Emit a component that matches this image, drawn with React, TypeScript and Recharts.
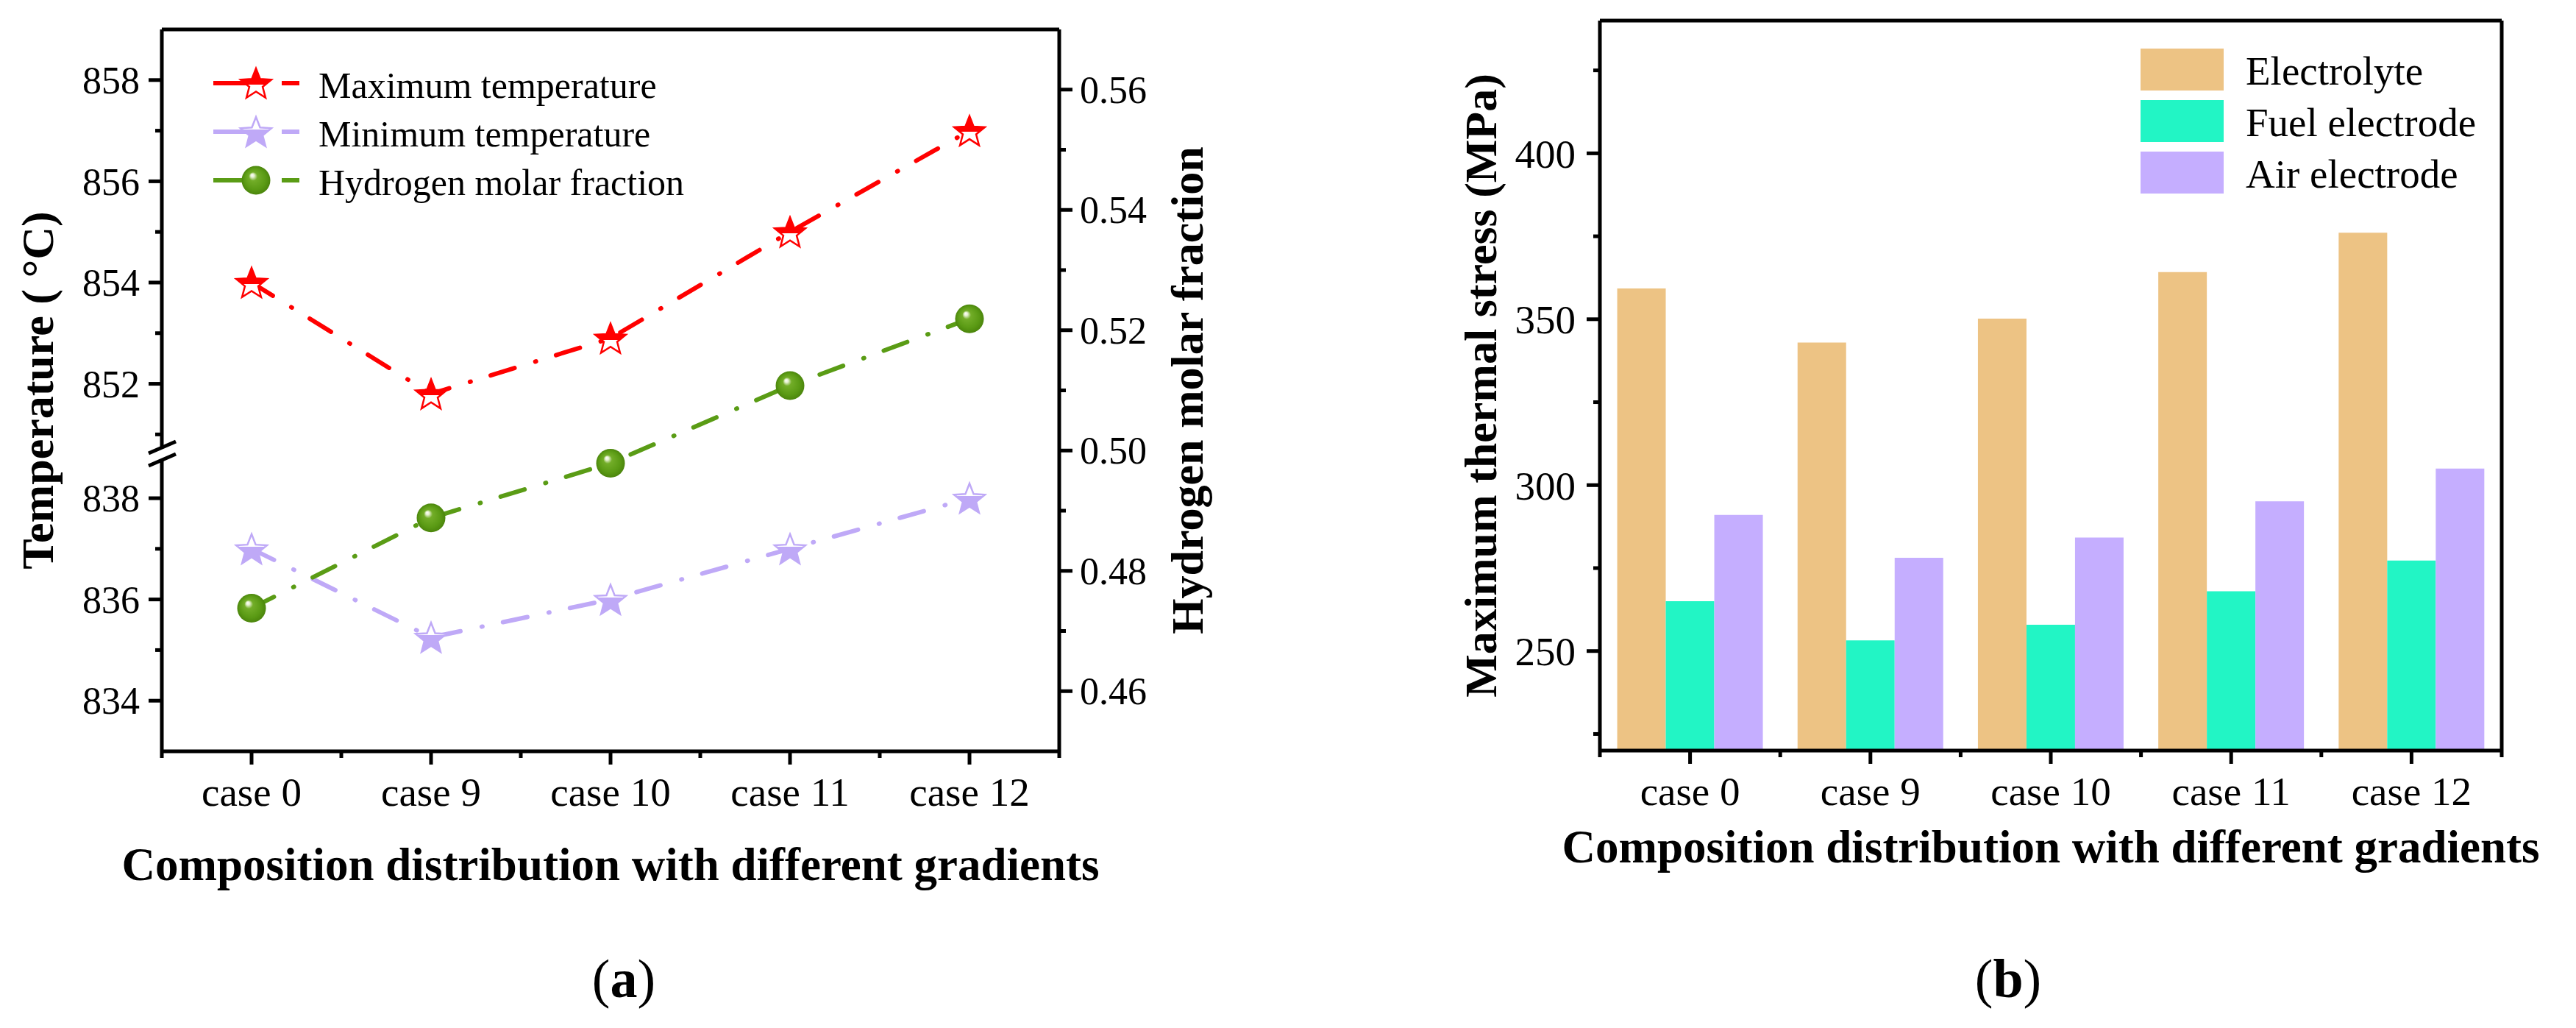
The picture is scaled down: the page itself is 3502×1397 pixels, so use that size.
import React from "react";
import { LineChart, Line, BarChart, Bar, XAxis, YAxis, Legend } from "recharts";

// ---- data ----
const cases = ["case 0", "case 9", "case 10", "case 11", "case 12"];

// panel (a)
const maxTemp = [854.0, 851.8, 852.9, 855.0, 857.0];
const minTemp = [837.0, 835.25, 836.0, 837.0, 838.0];
const h2Fraction = [0.4738, 0.4888, 0.4979, 0.5108, 0.5219];
const tempTicks = [834, 835, 836, 837, 838, 851, 852, 853, 854, 855, 856, 857, 858];
const h2Ticks = [0.46, 0.47, 0.48, 0.49, 0.5, 0.51, 0.52, 0.53, 0.54, 0.55, 0.56];
const caseTicks = [0.5, 1, 1.5, 2, 2.5, 3, 3.5, 4, 4.5, 5, 5.5];

// panel (b)
const electrolyte = [359.3, 343.0, 350.2, 364.2, 376.1];
const fuelElectrode = [265.0, 253.2, 257.9, 268.0, 277.3];
const airElectrode = [291.0, 278.1, 284.2, 295.1, 305.0];
const stressTicks = [225, 250, 275, 300, 325, 350, 375, 400, 425];

// ---- styling ----
const FONT = '"Liberation Serif", "Times New Roman", Times, serif';
const RED = "#ff0000";
const LAVENDER = "#bfa9f7";
const GREEN = "#5a9c15";
const EL_COLOR = "#edc384";
const FUEL_COLOR = "#22f5c5";
const AIR_COLOR = "#c5aeff";
const axisStyle = { stroke: "#000", strokeWidth: 5 };
const DASH_DOT = "34 29.5 1 28.5";

// broken temperature axis: values above the break are shifted down
const BREAK_LOW = 838.88;
const BREAK_SKIP = 11.74;
const toAxis = (v: number) => (v > BREAK_LOW ? v - BREAK_SKIP : v);
const fromAxis = (t: number) => (t > BREAK_LOW + 1e-6 ? t + BREAK_SKIP : t);

const rowsA = cases.map((name, i) => ({
  x: i + 1,
  name,
  maxT: toAxis(maxTemp[i]),
  minT: toAxis(minTemp[i]),
  h2: h2Fraction[i],
}));

const rowsB = cases.map((name, i) => ({
  name,
  electrolyte: electrolyte[i],
  fuel: fuelElectrode[i],
  air: airElectrode[i],
}));

const orderA = ["maxT", "minT", "h2"];
const orderB = ["electrolyte", "fuel", "air"];

// plot boxes (axes take 1px each, so margins are 1px smaller)
const A = { w: 1751, h: 1397, left: 220, right: 1440, top: 40, bottom: 1021 };
const B = { w: 1751, h: 1397, left: 424, right: 1650, top: 28, bottom: 1020 };
const bandB = (B.right - B.left) / cases.length;

function starPath(cx: number, cy: number, R: number, r: number) {
  let d = "";
  for (let i = 0; i < 10; i++) {
    const rad = i % 2 === 0 ? R : r;
    const ang = -Math.PI / 2 + (i * Math.PI) / 5;
    d += (i === 0 ? "M" : "L") + (cx + rad * Math.cos(ang)).toFixed(2) + "," + (cy + rad * Math.sin(ang)).toFixed(2);
  }
  return d + "Z";
}

function Star({ cx, cy, color, grad }: { cx: number; cy: number; color: string; grad: string }) {
  return <path d={starPath(cx, cy + 2, 22, 9.5)} fill={`url(#${grad})`} stroke={color} strokeWidth={2.5} strokeLinejoin="miter" />;
}

function Sphere({ cx, cy }: { cx: number; cy: number }) {
  return <circle cx={cx} cy={cy} r={19.5} fill="url(#sphereGreen)" />;
}

function Defs() {
  return (
    <svg width={0} height={0} style={{ position: "absolute" }}>
      <defs>
        <linearGradient id="starRed" x1="0" y1="0" x2="0" y2="1">
          <stop offset="0" stopColor={RED} />
          <stop offset="0.55" stopColor={RED} />
          <stop offset="0.55" stopColor="#fff" />
          <stop offset="1" stopColor="#fff" />
        </linearGradient>
        <linearGradient id="starLav" x1="0" y1="0" x2="0" y2="1">
          <stop offset="0" stopColor="#fff" />
          <stop offset="0.43" stopColor="#fff" />
          <stop offset="0.43" stopColor={LAVENDER} />
          <stop offset="1" stopColor={LAVENDER} />
        </linearGradient>
        <radialGradient id="sphereGreen" cx="0.5" cy="0.5" r="0.5" fx="0.36" fy="0.31">
          <stop offset="0" stopColor="#ffffff" />
          <stop offset="0.12" stopColor="#e6f1d2" />
          <stop offset="0.3" stopColor="#72ad28" />
          <stop offset="0.75" stopColor="#5a9a14" />
          <stop offset="1" stopColor="#4b850c" />
        </radialGradient>
      </defs>
    </svg>
  );
}

// ---- ticks ----
function TempTick(props: any) {
  const { x, y, payload } = props;
  const t = payload.value as number;
  if (Math.abs(t - BREAK_LOW) < 1e-6) {
    return (
      <g>
        <polygon points={`${x - 18},${y - 0.5} ${x + 19},${y - 16.5} ${x + 19},${y + 0.5} ${x - 18},${y + 16.5}`} fill="#fff" />
        <line x1={x - 18} y1={y - 0.5} x2={x + 19} y2={y - 16.5} stroke="#000" strokeWidth={5} />
        <line x1={x - 18} y1={y + 16.5} x2={x + 19} y2={y + 0.5} stroke="#000" strokeWidth={5} />
      </g>
    );
  }
  const v = Math.round(fromAxis(t));
  const major = v % 2 === 0;
  return (
    <g>
      <line x1={x} x2={x - (major ? 18 : 9)} y1={y} y2={y} stroke="#000" strokeWidth={5} />
      {major && (
        <text x={x - 30} y={y} dy="0.35em" textAnchor="end" fontFamily={FONT} fontSize={52} fill="#000">
          {v}
        </text>
      )}
    </g>
  );
}

function H2Tick(props: any) {
  const { x, y, payload } = props;
  const v = payload.value as number;
  const major = Math.round(v * 100) % 2 === 0;
  return (
    <g>
      <line x1={x} x2={x + (major ? 18 : 9)} y1={y} y2={y} stroke="#000" strokeWidth={5} />
      {major && (
        <text x={x + 28} y={y} dy="0.35em" textAnchor="start" fontFamily={FONT} fontSize={52} fill="#000">
          {v.toFixed(2)}
        </text>
      )}
    </g>
  );
}

function CaseTickA(props: any) {
  const { x, y, payload } = props;
  const v = payload.value as number;
  const major = Number.isInteger(v);
  return (
    <g>
      <line x1={x} x2={x} y1={y} y2={y + (major ? 18 : 9)} stroke="#000" strokeWidth={5} />
      {major && (
        <text x={x} y={y + 74} textAnchor="middle" fontFamily={FONT} fontSize={55} fill="#000">
          {cases[v - 1]}
        </text>
      )}
    </g>
  );
}

function CaseTickB(props: any) {
  const { x, y, payload, index } = props;
  return (
    <g>
      <line x1={x} x2={x} y1={y} y2={y + 18} stroke="#000" strokeWidth={5} />
      <line x1={x - bandB / 2} x2={x - bandB / 2} y1={y} y2={y + 9} stroke="#000" strokeWidth={5} />
      {index === cases.length - 1 && (
        <line x1={x + bandB / 2} x2={x + bandB / 2} y1={y} y2={y + 9} stroke="#000" strokeWidth={5} />
      )}
      <text x={x} y={y + 74} textAnchor="middle" fontFamily={FONT} fontSize={55} fill="#000">
        {payload.value}
      </text>
    </g>
  );
}

function StressTick(props: any) {
  const { x, y, payload } = props;
  const v = payload.value as number;
  const major = v % 50 === 0;
  return (
    <g>
      <line x1={x} x2={x - (major ? 18 : 9)} y1={y} y2={y} stroke="#000" strokeWidth={5} />
      {major && (
        <text x={x - 33} y={y} dy="0.35em" textAnchor="end" fontFamily={FONT} fontSize={55} fill="#000">
          {v}
        </text>
      )}
    </g>
  );
}

// ---- axis titles ----
function VTitle(props: any) {
  const { viewBox, baselineX, text } = props;
  const cy = viewBox.y + viewBox.height / 2;
  return (
    <text transform={`translate(${baselineX},${cy}) rotate(-90)`} textAnchor="middle" fontFamily={FONT} fontWeight="bold" fontSize={62} fill="#000">
      {text}
    </text>
  );
}

function HTitle(props: any) {
  const { viewBox, baselineY, text } = props;
  const cx = viewBox.x + viewBox.width / 2;
  return (
    <text x={cx} y={baselineY} textAnchor="middle" fontFamily={FONT} fontWeight="bold" fontSize={63} fill="#000">
      {text}
    </text>
  );
}

// ---- legends ----
const markerFor: Record<string, (cx: number, cy: number) => React.ReactNode> = {
  maxT: (cx, cy) => <Star cx={cx} cy={cy} color={RED} grad="starRed" />,
  minT: (cx, cy) => <Star cx={cx} cy={cy} color={LAVENDER} grad="starLav" />,
  h2: (cx, cy) => <Sphere cx={cx} cy={cy} />,
};

function sortBy(items: any[], order: string[]) {
  return [...items].sort((a, b) => order.indexOf(a.dataKey) - order.indexOf(b.dataKey));
}

function LegendA(props: any) {
  const items = sortBy(props.payload || [], orderA);
  return (
    <svg width={700} height={220} style={{ overflow: "visible" }}>
      {items.map((it: any, i: number) => {
        const cy = 43 + i * 66;
        return (
          <g key={it.dataKey}>
            <line x1={20} x2={92} y1={cy} y2={cy} stroke={it.color} strokeWidth={6} />
            <line x1={113} x2={137} y1={cy} y2={cy} stroke={it.color} strokeWidth={6} />
            {markerFor[it.dataKey](78, cy)}
            <text x={163} y={cy + 20} fontFamily={FONT} fontSize={50} fill="#000">
              {it.value}
            </text>
          </g>
        );
      })}
    </svg>
  );
}

function LegendB(props: any) {
  const items = sortBy(props.payload || [], orderB);
  return (
    <svg width={520} height={220} style={{ overflow: "visible" }}>
      {items.map((it: any, i: number) => {
        const top = 16 + i * 70;
        return (
          <g key={it.dataKey}>
            <rect x={0} y={top} width={113} height={57} fill={it.color} />
            <text x={143} y={top + 49} fontFamily={FONT} fontSize={55} fill="#000">
              {it.value}
            </text>
          </g>
        );
      })}
    </svg>
  );
}

function ChartA() {
  return (
    <LineChart
      width={A.w}
      height={A.h}
      data={rowsA}
      margin={{ top: A.top - 1, left: A.left - 1, right: A.w - A.right - 1, bottom: A.h - A.bottom - 1 }}
    >
      <XAxis
        dataKey="x"
        type="number"
        domain={[0.5, 5.5]}
        ticks={caseTicks}
        interval={0}
        allowDataOverflow
        height={1}
        tickSize={0}
        tickMargin={0}
        tickLine={false}
        axisLine={axisStyle}
        tick={CaseTickA}
        label={<HTitle baselineY={1196} text="Composition distribution with different gradients" />}
      />
      <XAxis xAxisId="top" orientation="top" dataKey="x" type="number" domain={[0.5, 5.5]} height={1} tick={false} tickLine={false} axisLine={axisStyle} />
      <YAxis
        yAxisId="t"
        type="number"
        domain={[833, 859 - BREAK_SKIP]}
        ticks={[...tempTicks.map(toAxis), BREAK_LOW]}
        interval={0}
        allowDataOverflow
        width={1}
        tickSize={0}
        tickMargin={0}
        tickLine={false}
        axisLine={axisStyle}
        tick={TempTick}
        label={<VTitle baselineX={72} text="Temperature ( °C)" />}
      />
      <YAxis
        yAxisId="h"
        orientation="right"
        type="number"
        domain={[0.45, 0.57]}
        ticks={h2Ticks}
        interval={0}
        allowDataOverflow
        width={1}
        tickSize={0}
        tickMargin={0}
        tickLine={false}
        axisLine={axisStyle}
        tick={H2Tick}
        label={<VTitle baselineX={1635} text="Hydrogen molar fraction" />}
      />
      <Legend
        layout="vertical"
        align="center"
        verticalAlign="middle"
        content={LegendA}
        wrapperStyle={{ left: 270, top: 70, width: 700, height: 220 }}
      />
      <Line
        yAxisId="t"
        dataKey="maxT"
        name="Maximum temperature"
        stroke={RED}
        strokeWidth={6}
        strokeDasharray={DASH_DOT}
        strokeLinecap="round"
        dot={(p: any) => <Star key={p.index} cx={p.cx} cy={p.cy} color={RED} grad="starRed" />}
        activeDot={false}
        isAnimationActive={false}
      />
      <Line
        yAxisId="t"
        dataKey="minT"
        name="Minimum temperature"
        stroke={LAVENDER}
        strokeWidth={6}
        strokeDasharray={DASH_DOT}
        strokeLinecap="round"
        dot={(p: any) => <Star key={p.index} cx={p.cx} cy={p.cy} color={LAVENDER} grad="starLav" />}
        activeDot={false}
        isAnimationActive={false}
      />
      <Line
        yAxisId="h"
        dataKey="h2"
        name="Hydrogen molar fraction"
        stroke={GREEN}
        strokeWidth={6}
        strokeDasharray={DASH_DOT}
        strokeLinecap="round"
        dot={(p: any) => <Sphere key={p.index} cx={p.cx} cy={p.cy} />}
        activeDot={false}
        isAnimationActive={false}
      />
    </LineChart>
  );
}

function ChartB() {
  return (
    <BarChart
      width={B.w}
      height={B.h}
      data={rowsB}
      margin={{ top: B.top - 1, left: B.left - 1, right: B.w - B.right - 1, bottom: B.h - B.bottom - 1 }}
      barCategoryGap="9.6%"
      barGap={0}
    >
      <XAxis
        dataKey="name"
        interval={0}
        height={1}
        tickSize={0}
        tickMargin={0}
        tickLine={false}
        axisLine={axisStyle}
        tick={CaseTickB}
        label={<HTitle baselineY={1172} text="Composition distribution with different gradients" />}
      />
      <XAxis xAxisId="top" orientation="top" dataKey="name" height={1} tick={false} tickLine={false} axisLine={axisStyle} />
      <YAxis
        type="number"
        domain={[220, 440]}
        ticks={stressTicks}
        interval={0}
        allowDataOverflow
        width={1}
        tickSize={0}
        tickMargin={0}
        tickLine={false}
        axisLine={axisStyle}
        tick={StressTick}
        label={<VTitle baselineX={283} text="Maximum thermal stress (MPa)" />}
      />
      <YAxis yAxisId="frame" orientation="right" type="number" domain={[220, 440]} width={1} tick={false} tickLine={false} axisLine={axisStyle} />
      <Legend
        layout="vertical"
        align="center"
        verticalAlign="middle"
        content={LegendB}
        wrapperStyle={{ left: 1159, top: 50, width: 520, height: 220 }}
      />
      <Bar dataKey="electrolyte" name="Electrolyte" fill={EL_COLOR} isAnimationActive={false} />
      <Bar dataKey="fuel" name="Fuel electrode" fill={FUEL_COLOR} isAnimationActive={false} />
      <Bar dataKey="air" name="Air electrode" fill={AIR_COLOR} isAnimationActive={false} />
    </BarChart>
  );
}

function PanelLabel({ x, letter }: { x: number; letter: string }) {
  return (
    <text x={x} y={1355} textAnchor="middle" fontFamily={FONT} fontSize={74} fill="#000">
      (<tspan fontWeight="bold">{letter}</tspan>)
    </text>
  );
}

export default function App() {
  return (
    <div style={{ position: "absolute", left: 0, top: 0, width: 3502, height: 1397, background: "#fff", fontFamily: FONT }}>
      <Defs />
      <div style={{ position: "absolute", left: 0, top: 0 }}>
        <ChartA />
      </div>
      <div style={{ position: "absolute", left: 1751, top: 0 }}>
        <ChartB />
      </div>
      <svg width={3502} height={1397} style={{ position: "absolute", left: 0, top: 0, pointerEvents: "none" }}>
        <PanelLabel x={848} letter="a" />
        <PanelLabel x={2730} letter="b" />
      </svg>
    </div>
  );
}
